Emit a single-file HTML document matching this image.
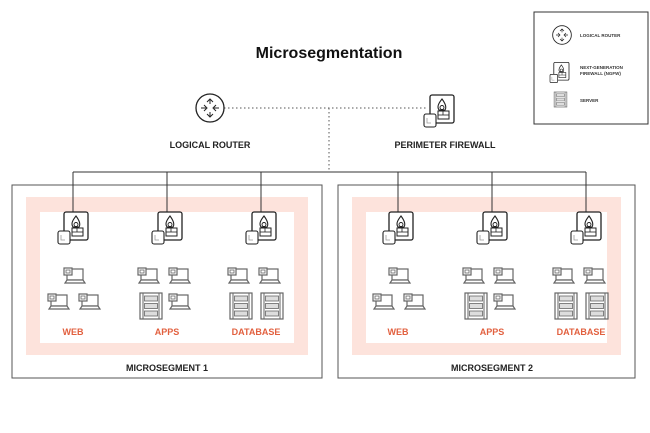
<!DOCTYPE html>
<html><head><style>
body{margin:0;background:#fff;}
svg{display:block;font-family:"Liberation Sans",sans-serif;}
</style></head><body>
<svg width="650" height="433" viewBox="0 0 650 433">
<defs>
<symbol id="lap" viewBox="0 0 24 18" overflow="visible">
<rect x="4" y="1" width="16" height="11" fill="#fff" stroke="#666" stroke-width="1.2"/>
<rect x="1" y="0" width="8" height="7" fill="#fff" stroke="#666" stroke-width="1.2"/>
<rect x="3" y="2" width="4" height="3" fill="none" stroke="#666" stroke-width="0.8"/>
<path d="M2 15 L22 15 L20 12 L4 12 Z" fill="#fff" stroke="#666" stroke-width="1.2"/>
</symbol>
<symbol id="srv" viewBox="0 0 22 26" overflow="visible">
<rect x="0" y="0" width="22" height="26" fill="#fff" stroke="#666" stroke-width="1.2"/>
<line x1="3" y1="0" x2="3" y2="26" stroke="#666"/><line x1="19" y1="0" x2="19" y2="26" stroke="#666"/>
<rect x="4.5" y="3" width="13" height="5" fill="#ddd" stroke="#666" stroke-width="0.8"/>
<rect x="4.5" y="10.5" width="13" height="5" fill="#ddd" stroke="#666" stroke-width="0.8"/>
<rect x="4.5" y="18" width="13" height="5" fill="#ddd" stroke="#666" stroke-width="0.8"/>
</symbol>
<symbol id="fw" viewBox="0 0 30 32" overflow="visible">
<rect x="6" y="0" width="24" height="28" rx="2" fill="#fff" stroke="#222" stroke-width="1.3"/>
<path d="M18 4 C14 9 13 12 15 15 L21 15 C23 12 21 8 18 4 Z" fill="#fff" stroke="#222" stroke-width="1.1"/>
<circle cx="18" cy="12.5" r="2" fill="none" stroke="#222" stroke-width="0.9"/>
<rect x="14" y="16" width="11" height="8" fill="#fff" stroke="#222" stroke-width="1"/>
<line x1="14" y1="20" x2="25" y2="20" stroke="#222" stroke-width="0.8"/>
<line x1="19" y1="16" x2="19" y2="20" stroke="#222" stroke-width="0.8"/>
<rect x="0" y="19" width="12" height="13" rx="2" fill="#fff" stroke="#222" stroke-width="1.1"/>
<path d="M3 23 L3 28 L7 28" fill="none" stroke="#999" stroke-width="0.8"/>
</symbol>
<symbol id="rt" viewBox="-15 -15 30 30" overflow="visible">
<circle cx="0" cy="0" r="14" fill="#fff" stroke="#222" stroke-width="1.3"/>
<path d="M0 -9 L0 -4 M-3 -6 L0 -9 L3 -6 M0 9 L0 4 M-3 6 L0 9 L3 6 M-9 0 L-4 0 M-6 -3 L-3 0 L-6 3 M9 0 L4 0 M6 -3 L3 0 L6 3" fill="none" stroke="#222" stroke-width="1"/>
</symbol>
</defs>

<text x="329" y="58" text-anchor="middle" font-size="16" font-weight="bold" fill="#111">Microsegmentation</text>

<!-- legend -->
<rect x="534" y="12" width="114" height="112" fill="#fff" stroke="#333" stroke-width="1"/>
<use href="#rt" x="552" y="25" width="20" height="20"/>
<text x="580" y="37" font-size="4.5" font-weight="bold" fill="#333">LOGICAL ROUTER</text>
<use href="#fw" x="550" y="62" width="19" height="21"/>
<text x="580" y="69" font-size="4.5" font-weight="bold" fill="#333">NEXT-GENERATION</text>
<text x="580" y="75" font-size="4.5" font-weight="bold" fill="#333">FIREWALL (NGFW)</text>
<use href="#srv" x="554" y="92" width="13" height="15"/>
<text x="580" y="102" font-size="4.5" font-weight="bold" fill="#333">SERVER</text>

<!-- top -->
<line x1="224" y1="108" x2="428" y2="108" stroke="#555" stroke-width="1" stroke-dasharray="1.5,2.5"/>
<line x1="329" y1="108" x2="329" y2="172" stroke="#555" stroke-width="1" stroke-dasharray="1.5,2.5"/>
<use href="#rt" x="195" y="93" width="30" height="30"/>
<use href="#fw" x="424" y="95" width="30" height="32"/>
<text x="210" y="148" text-anchor="middle" font-size="9" font-weight="bold" fill="#222">LOGICAL ROUTER</text>
<text x="445" y="148" text-anchor="middle" font-size="9" font-weight="bold" fill="#222">PERIMETER FIREWALL</text>

<line x1="73" y1="172" x2="586" y2="172" stroke="#333" stroke-width="1"/>

<rect x="12" y="185" width="310" height="193" fill="#fff" stroke="#555" stroke-width="1"/>
<rect x="26" y="197" width="282" height="158" fill="#fde3dc"/>
<rect x="40" y="212" width="254" height="131" fill="#fff"/>
<rect x="338" y="185" width="297" height="193" fill="#fff" stroke="#555" stroke-width="1"/>
<rect x="352" y="197" width="269" height="158" fill="#fde3dc"/>
<rect x="366" y="212" width="241" height="131" fill="#fff"/>

<g stroke="#333" stroke-width="1">
<line x1="73" y1="172" x2="73" y2="212"/><line x1="167" y1="172" x2="167" y2="212"/><line x1="261" y1="172" x2="261" y2="212"/>
<line x1="398" y1="172" x2="398" y2="212"/><line x1="492" y1="172" x2="492" y2="212"/><line x1="586" y1="172" x2="586" y2="212"/>
</g>

<g id="s1">
<use href="#fw" x="58" y="212" width="30" height="32"/>
<use href="#fw" x="152" y="212" width="30" height="32"/>
<use href="#fw" x="246" y="212" width="30" height="32"/>
<use href="#lap" x="63" y="268" width="24" height="18"/>
<use href="#lap" x="47" y="294" width="24" height="18"/>
<use href="#lap" x="78" y="294" width="24" height="18"/>
<use href="#lap" x="137" y="268" width="24" height="18"/>
<use href="#lap" x="168" y="268" width="24" height="18"/>
<use href="#srv" x="140" y="293" width="22" height="26"/>
<use href="#lap" x="168" y="294" width="24" height="18"/>
<use href="#lap" x="227" y="268" width="24" height="18"/>
<use href="#lap" x="258" y="268" width="24" height="18"/>
<use href="#srv" x="230" y="293" width="22" height="26"/>
<use href="#srv" x="261" y="293" width="22" height="26"/>
</g>
<use href="#s1" x="325"/>

<g font-size="9" font-weight="bold" fill="#e2603f" text-anchor="middle">
<text x="73" y="335">WEB</text><text x="167" y="335">APPS</text><text x="256" y="335">DATABASE</text>
<text x="398" y="335">WEB</text><text x="492" y="335">APPS</text><text x="581" y="335">DATABASE</text>
</g>
<g font-size="9" font-weight="bold" fill="#222" text-anchor="middle">
<text x="167" y="371">MICROSEGMENT 1</text><text x="492" y="371">MICROSEGMENT 2</text>
</g>
</svg>
</body></html>
